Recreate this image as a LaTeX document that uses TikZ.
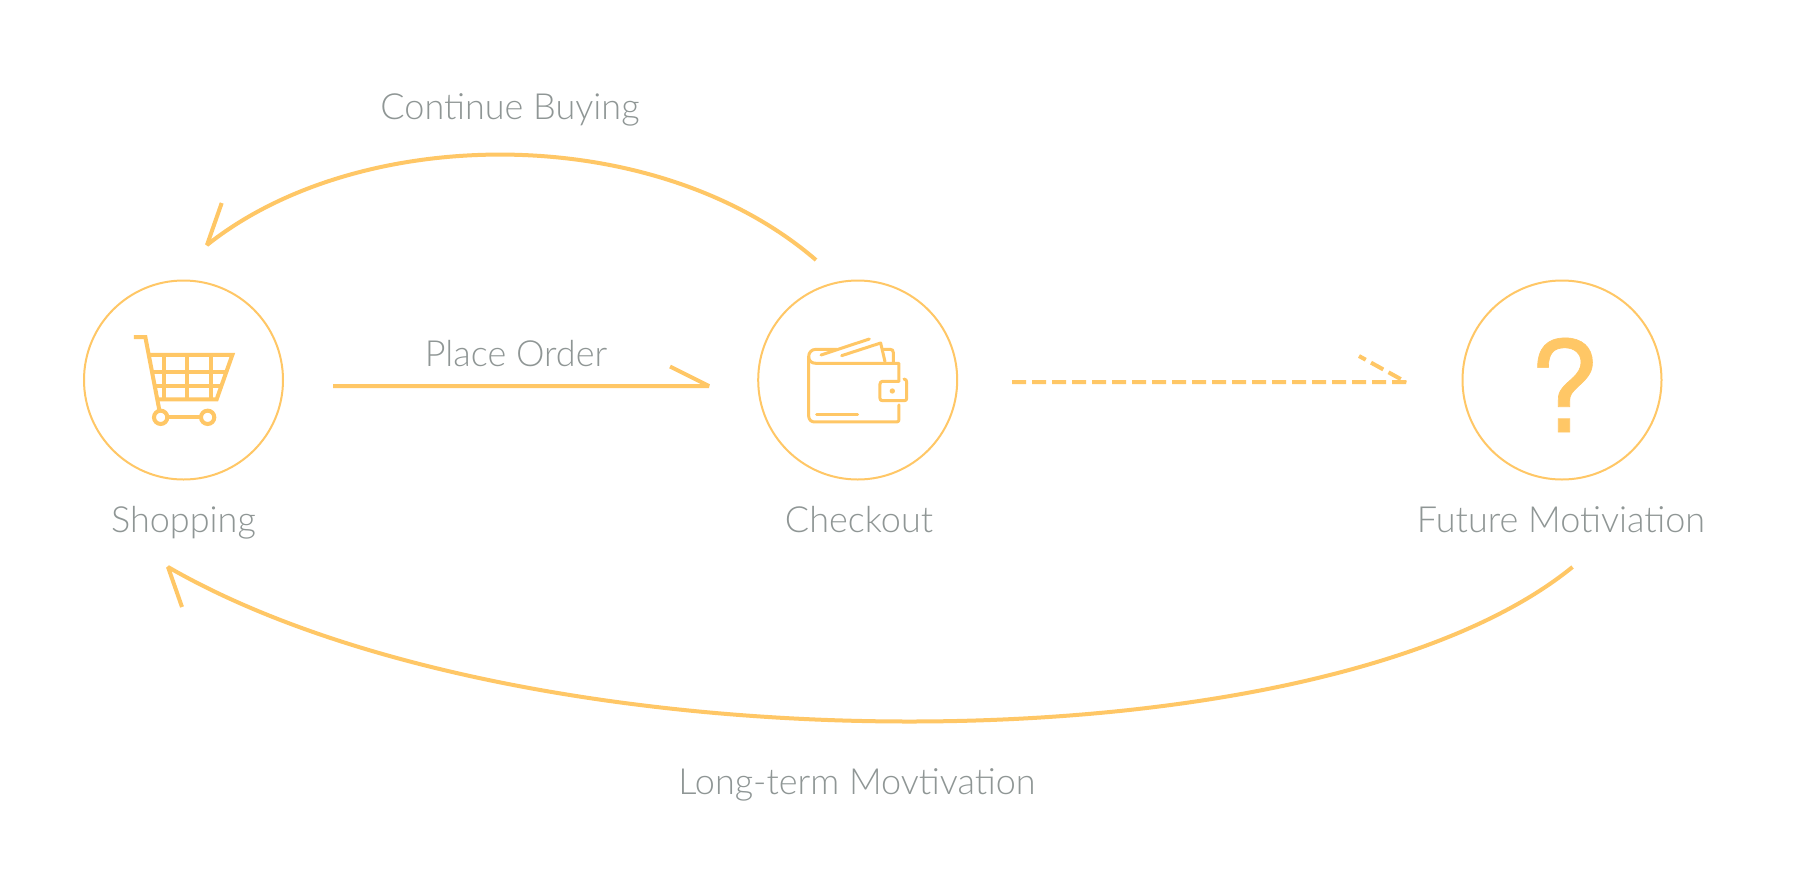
\documentclass[tikz,border=0pt]{standalone}
\usepackage{fontspec}
\setmainfont{Lato Light}
\newfontfamily\qfont[RawFeature={embolden=0.5}]{TeX Gyre Heros}
\definecolor{gold}{HTML}{FFC766}
\definecolor{txt}{HTML}{8F9695}
\tikzset{
  x=1pt,y=-1pt,
  ring/.style={circle,draw=gold,line width=2pt,minimum size=199pt,inner sep=0pt},
  lab/.style={anchor=base,text=txt,font=\fontsize{36}{40}\selectfont,inner sep=0pt},
  link/.style={draw=gold,line width=4pt,line join=bevel},
  dashlink/.style={link,dash pattern=on 14pt off 6pt},
  ico/.style={draw=gold,line width=4pt},
  icothin/.style={draw=gold,line width=3pt,line cap=round,line join=round},
}
\begin{document}
\begin{tikzpicture}
\useasboundingbox[fill=white] (0,0) rectangle (1804,868);
% circles
\node[ring] (shop) at (183.5,380) {};
\node[ring] (check) at (857.7,380) {};
\node[ring] (future) at (1562,380) {};
% labels
\node[lab] (lshop) at (183.5,532) {Shopping};
\node[lab] (lcheck) at (859,532) {Checkout};
\node[lab] (lfuture) at (1561,532) {Future Motiviation};
\node[lab] (lcont) at (510,119) {Continue Buying};
\node[lab] (lplace) at (516,366) {Place Order};
\node[lab] (llong) at (857,794.5) {Long-term Movtivation};
% question mark
\node[anchor=base,text=gold,inner sep=0pt,font=\qfont\fontsize{127}{127}\selectfont] (q) at (1564,432) {?};
% connector ends
\coordinate (a1) at (816,260); \coordinate (a2) at (207,245); \coordinate (a3) at (221.7,203);
\coordinate (b1) at (333,386); \coordinate (b2) at (709,386); \coordinate (b3) at (670,366.5);
\coordinate (c1) at (1012,382); \coordinate (c2) at (1406,382); \coordinate (c3) at (1359,356);
\coordinate (d1) at (1572.5,567); \coordinate (d2) at (168,567); \coordinate (d3) at (182,607);
% connectors
\draw[link] (a1) .. controls (655,121) and (360,123) .. (a2) -- (a3);
\draw[link] (b1) -- (b2) -- (b3);
\draw[dashlink] (c1) -- (c2) -- (c3);
\draw[link] (d1) .. controls (1320,773) and (525,773) .. (d2) -- (d3);
% cart icon
\begin{scope}[shift={(70,270)},x=0.3333pt,y=-0.3333pt]
\draw[ico] (192,201) -- (226,201) -- (268,420);
\draw[ico] (240,255) -- (487,255) -- (440,388) -- (262,388);
\draw[ico] (250,305) -- (470,305);
\draw[ico] (258,348) -- (450,348);
\draw[ico] (282,255) -- (282,388);
\draw[ico] (352,255) -- (352,388);
\draw[ico] (423,255) -- (423,388);
\draw[ico] (272,442) circle (20);
\draw[ico] (413,442) circle (20);
\draw[ico] (292,441) -- (393,441);
\end{scope}
% wallet icon
\begin{scope}[shift={(750,270)},x=0.3333pt,y=-0.3333pt]
\draw[icothin] (260,238) -- (198,238) .. controls (184,238) and (176,248) .. (176,260) .. controls (176,272) and (184,280) .. (198,280) -- (447,280) -- (447,333);
\draw[icothin] (176,260) -- (176,438) .. controls (176,449) and (184,456) .. (194,456) -- (440,456) .. controls (445,456) and (447,453) .. (447,448) -- (447,405);
\draw[icothin] (470,340) -- (470,385) .. controls (470,390) and (468,392) .. (463,392) -- (398,392) .. controls (393,392) and (390,390) .. (390,385) -- (390,342) .. controls (390,337) and (393,334) .. (398,334) -- (447,334);
\draw[icothin] (462,327) .. controls (467,327) and (470,330) .. (470,340);
\draw[icothin] (200,435) -- (323,435);
\draw[icothin] (213,255) -- (358,207);
\draw[icothin] (275,257) -- (392,219) -- (405,275);
\draw[icothin] (400,238) -- (420,238) .. controls (427,238) and (430,241) .. (430,248) -- (430,278);
\fill[gold] (427,363) circle (8);
\end{scope}
\end{tikzpicture}
\end{document}
